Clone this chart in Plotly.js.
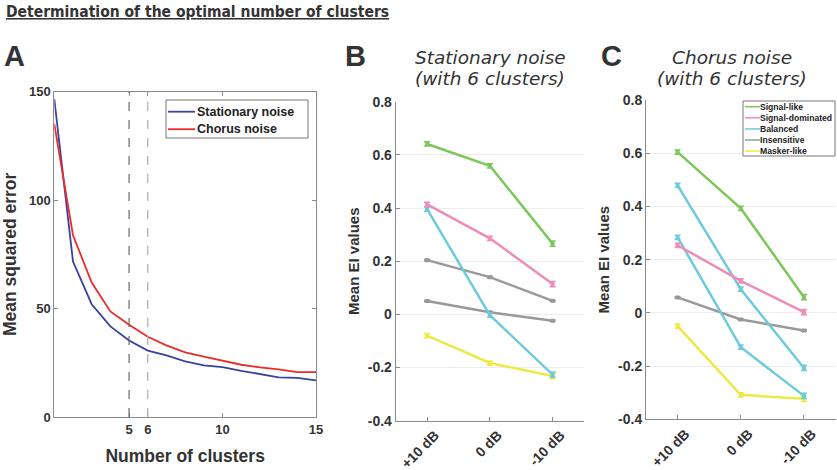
<!DOCTYPE html>
<html>
<head>
<meta charset="utf-8">
<script src="https://cdn.plot.ly/plotly-3.0.1.min.js"></script>
<style>html,body{margin:0;padding:0;background:#fff}#chart{width:837px;height:470px}</style>
</head>
<body>
<div id="chart"></div>
<script>
// ---------- data ----------
var clusters = [1,2,3,4,5,6,7,8,9,10,11,12,13,14,15];
var mseStationary = [146.6,71.7,52.0,41.8,35.3,30.6,28.4,25.6,23.8,23.0,21.3,19.8,18.3,18.0,16.9];
var mseChorus     = [135.1,83.8,62.0,48.7,42.5,37.0,33.0,29.8,27.8,26.1,24.1,22.9,22.0,20.7,20.7];
var cutoffs = [5,6];
var mseNames = ['Stationary noise','Chorus noise'];

var snr = ['+10 dB','0 dB','-10 dB'];

// Panel B: stationary noise, 6 clusters
var statSignalLike = [0.641,0.559,0.266];
var statSignalDom  = [0.414,0.286,0.114];
var statBalanced   = [0.396,-0.003,-0.227];
var statInsens1    = [0.204,0.140,0.051];
var statInsens2    = [0.050,0.008,-0.024];
var statMasker     = [-0.080,-0.183,-0.232];
var statErr        = [0.008,0.008,0.010];

// Panel C: chorus noise, 6 clusters
var chorSignalLike = [0.604,0.393,0.059];
var chorBalanced1  = [0.479,0.089,-0.207];
var chorBalanced2  = [0.284,-0.129,-0.312];
var chorSignalDom  = [0.254,0.120,0.003];
var chorInsens     = [0.058,-0.025,-0.066];
var chorMasker     = [-0.050,-0.308,-0.323];
var chorErr        = [0.008,0.008,0.010];
var smallErr       = [0.003,0.003,0.003];

var clusterNames = ['Signal-like','Signal-dominated','Balanced','Insensitive','Masker-like'];

var eiTicks = [-0.4,-0.2,0,0.2,0.4,0.6,0.8];
var eiTickText = ['-0.4','-0.2','0','0.2','0.4','0.6','0.8'];

// ---------- styles ----------
var C = {green:'#7cc75a', pink:'#f08cb8', cyan:'#6fcbdb', gray:'#999999', yellow:'#ece946',
         blue:'#3b419e', red:'#ee2a2a'};
var clusterColors = [C.green, C.pink, C.cyan, C.gray, C.yellow];
var SANS = 'Liberation Sans, Arial, sans-serif';
var DJ = 'DejaVu Sans, sans-serif';
var DJC = 'DejaVu Sans Condensed, DejaVu Sans, sans-serif';
var tickFontA = {family:SANS, size:13, color:'#333', weight:'bold'};
var tickFontB = {family:SANS, size:14, color:'#333', weight:'bold'};

function eiTrace(y, color, name, xa, ya, err){
  return {x:snr, y:y, type:'scatter', mode:'lines+markers', name:name,
    xaxis:xa, yaxis:ya, showlegend:false,
    line:{color:color, width:2.5},
    marker:{color:color, size:4, symbol:'square'},
    error_y:{type:'data', array:err, color:color, thickness:1.5, width:3}};
}

var traces = [
  {x:clusters, y:mseStationary, type:'scatter', mode:'lines', name:mseNames[0], showlegend:false,
   line:{color:C.blue, width:1.8}, xaxis:'x', yaxis:'y'},
  {x:clusters, y:mseChorus, type:'scatter', mode:'lines', name:mseNames[1], showlegend:false,
   line:{color:C.red, width:1.8}, xaxis:'x', yaxis:'y'},

  eiTrace(statInsens1, C.gray, 'Insensitive', 'x2','y2', smallErr),
  eiTrace(statInsens2, C.gray, 'Insensitive', 'x2','y2', smallErr),
  eiTrace(statMasker, C.yellow, 'Masker-like', 'x2','y2', statErr),
  eiTrace(statBalanced, C.cyan, 'Balanced', 'x2','y2', statErr),
  eiTrace(statSignalDom, C.pink, 'Signal-dominated', 'x2','y2', statErr),
  eiTrace(statSignalLike, C.green, 'Signal-like', 'x2','y2', statErr),

  eiTrace(chorInsens, C.gray, 'Insensitive', 'x3','y3', smallErr),
  eiTrace(chorMasker, C.yellow, 'Masker-like', 'x3','y3', chorErr),
  eiTrace(chorBalanced2, C.cyan, 'Balanced', 'x3','y3', chorErr),
  eiTrace(chorBalanced1, C.cyan, 'Balanced', 'x3','y3', chorErr),
  eiTrace(chorSignalDom, C.pink, 'Signal-dominated', 'x3','y3', chorErr),
  eiTrace(chorSignalLike, C.green, 'Signal-like', 'x3','y3', chorErr)
];

var W = 837, H = 470;
function dx(a,b){return [a/W, b/W];}
function dy(top,bot){return [1-bot/H, 1-top/H];}

var axCommon = {showline:true, linecolor:'#8a8a8a', linewidth:1, ticks:'inside', ticklen:4,
  tickcolor:'#8a8a8a', zeroline:false, fixedrange:true};

var shapes = cutoffs.map(function(c, i){
  return {type:'line', xref:'x', yref:'y domain', x0:c, x1:c, y0:0, y1:1,
    line:{color: i===0 ? '#666' : '#aaa', width:1.2, dash:'dash'}};
});

var annotations = [
  {xref:'paper', yref:'paper', x:4/W, y:1-1/H, xanchor:'left', yanchor:'top', showarrow:false,
   text:'<span style="text-decoration:underline">Determination of the optimal number of clusters</span>',
   font:{family:DJC, size:15.5, color:'#333', weight:'bold'}},
  {xref:'paper', yref:'paper', x:2/W, y:1-38/H, xanchor:'left', yanchor:'top', showarrow:false,
   text:'<b>A</b>', font:{family:SANS, size:29, color:'#333'}},
  {xref:'paper', yref:'paper', x:343/W, y:1-38/H, xanchor:'left', yanchor:'top', showarrow:false,
   text:'<b>B</b>', font:{family:SANS, size:29, color:'#333'}},
  {xref:'paper', yref:'paper', x:599/W, y:1-38/H, xanchor:'left', yanchor:'top', showarrow:false,
   text:'<b>C</b>', font:{family:SANS, size:29, color:'#333'}}
];
// panel subtitles, one line each
[['Stationary noise','(with 6 clusters)',490],['Chorus noise','(with 6 clusters)',732]].forEach(function(t){
  [t[0],t[1]].forEach(function(line, k){
    annotations.push({xref:'paper', yref:'paper', x:t[2]/W, y:1-(58+k*20.5)/H, xanchor:'center', yanchor:'middle',
      showarrow:false, height:19, text:'<i>'+line+'</i>', font:{family:DJ, size:18.5, color:'#333'}});
  });
});

// custom legends (box + line swatch + label), built from names/colors arrays
function addLegend(names, colors, box, rowTop, rowGap, swatch, textX, fontSize, lineW){
  shapes.push({type:'rect', xref:'paper', yref:'paper', x0:box[0]/W, x1:box[2]/W,
    y0:1-box[3]/H, y1:1-box[1]/H, line:{color:'#777', width:1}, fillcolor:'#fff', layer:'above'});
  names.forEach(function(n, i){
    var yc = rowTop + i*rowGap;
    shapes.push({type:'line', xref:'paper', yref:'paper', x0:swatch[0]/W, x1:swatch[1]/W,
      y0:1-yc/H, y1:1-yc/H, line:{color:colors[i], width:lineW}, layer:'above'});
    annotations.push({xref:'paper', yref:'paper', x:textX/W, y:1-yc/H, xanchor:'left', yanchor:'middle',
      showarrow:false, text:n, font:{family:SANS, size:fontSize, color:'#222', weight:'bold'}});
  });
}
addLegend(mseNames, [C.blue, C.red], [166,100,308,138], 111.7, 17.5, [168,195], 195, 12.5, 1.8);
addLegend(clusterNames, clusterColors, [743,101,835,156], 106.7, 11.1, [745,760], 758, 8.6, 1.5);

var layout = {
  width:W, height:H, margin:{l:0,r:0,t:0,b:0}, paper_bgcolor:'#fff', plot_bgcolor:'#fff',
  font:{family:SANS, color:'#333'}, showlegend:false,
  xaxis: Object.assign({}, axCommon, {domain:dx(54.3,316), range:[1,15], tickvals:[5,6,10,15],
    tickfont:tickFontA, mirror:'ticks', showgrid:false, anchor:'y',
    title:{text:'<b>Number of clusters</b>', font:{family:SANS, size:17.5, color:'#333'}, standoff:14}}),
  yaxis: Object.assign({}, axCommon, {domain:dy(91.7,417), range:[0,150], tickvals:[0,50,100,150],
    tickfont:tickFontA, mirror:'ticks', showgrid:false, anchor:'x',
    title:{text:'<b>Mean squared error</b>', font:{family:SANS, size:17.5, color:'#333'}, standoff:12}}),
  xaxis2: Object.assign({}, axCommon, {domain:dx(395.7,584), range:[-0.5,2.5], type:'category',
    tickfont:tickFontB, tickangle:-45, ticklabelshift:8, showgrid:false, anchor:'y2'}),
  yaxis2: Object.assign({}, axCommon, {domain:dy(101.7,420.7), range:[-0.4,0.8], tickvals:eiTicks,
    ticktext:eiTickText, tickfont:tickFontB, showgrid:true, gridcolor:'#ececec', anchor:'x2',
    title:{text:'<b>Mean EI values</b>', font:{family:SANS, size:15, color:'#333'}, standoff:4}}),
  xaxis3: Object.assign({}, axCommon, {domain:dx(646,835.5), range:[-0.5,2.5], type:'category',
    tickfont:tickFontB, tickangle:-45, ticklabelshift:8, showgrid:false, anchor:'y3'}),
  yaxis3: Object.assign({}, axCommon, {domain:dy(100,419.3), range:[-0.4,0.8], tickvals:eiTicks,
    ticktext:eiTickText, tickfont:tickFontB, showgrid:true, gridcolor:'#ececec', anchor:'x3',
    title:{text:'<b>Mean EI values</b>', font:{family:SANS, size:15, color:'#333'}, standoff:4}}),
  shapes: shapes,
  annotations: annotations
};

Plotly.newPlot('chart', traces, layout, {displayModeBar:false, staticPlot:true});
</script>
</body>
</html>
